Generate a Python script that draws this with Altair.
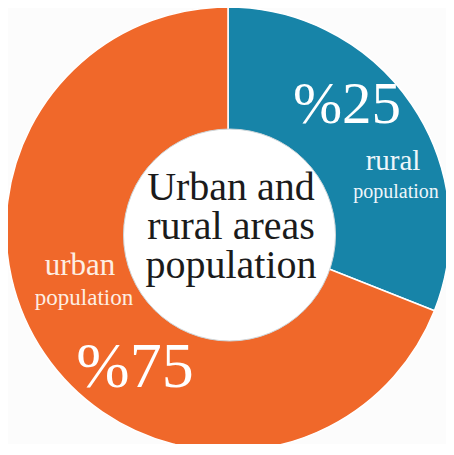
import altair as alt
import pandas as pd

# Data
categories = ["rural population", "urban population"]
drawn_shares = [31, 69]          # share of the ring as drawn
pct_labels = ["%25", "%75"]      # printed labels
name_first = ["rural", "urban"]
name_second = ["population", "population"]
center_lines = ["Urban and", "rural areas", "population"]
colors = ["#1784a8", "#f0682a"]

df = pd.DataFrame({"category": categories, "share": drawn_shares, "order": [0, 1]})

FONT = "Liberation Serif"

pie = alt.Chart(df).mark_arc(radius=222, stroke="white", strokeWidth=1.5).encode(
    theta=alt.Theta("share:Q", stack=True),
    color=alt.Color("category:N", scale=alt.Scale(domain=categories, range=colors), legend=None),
    order=alt.Order("order:Q"),
    x=alt.value(220),
    y=alt.value(221),
)

hole = alt.Chart(pd.DataFrame({"k": [0]})).mark_circle(
    size=44944, fill="white", opacity=1, fillOpacity=1, stroke="#cdd6da", strokeWidth=1
).encode(x=alt.value(221.5), y=alt.value(227))


def label(txt, x, y, size, color):
    return alt.Chart(pd.DataFrame({"t": [txt]})).mark_text(
        font=FONT, fontSize=size, color=color, align="center", baseline="alphabetic"
    ).encode(text="t:N", x=alt.value(x), y=alt.value(y))


layers = [
    pie,
    hole,
    label(pct_labels[0], 339, 115, 59, "white"),
    label(name_first[0], 385, 162, 29, "#eef6fa"),
    label(name_second[0], 388, 190, 20, "#eef6fa"),
    label(name_first[1], 72, 267, 31, "#fdeee3"),
    label(name_second[1], 76, 297, 23, "#fdeee3"),
    label(pct_labels[1], 127, 379, 64, "white"),
    label(center_lines[0], 223, 192, 40, "#1b1b1b"),
    label(center_lines[1], 223, 231, 40, "#1b1b1b"),
    label(center_lines[2], 223, 270, 40, "#1b1b1b"),
]

chart = alt.layer(*layers).properties(
    width=438, height=436, autosize=alt.AutoSizeParams(type="none"), padding=0,
    background="#fcfcfc"
).configure_view(stroke=None)

chart.save("out.html", embed_options={"renderer": "svg", "actions": False})
